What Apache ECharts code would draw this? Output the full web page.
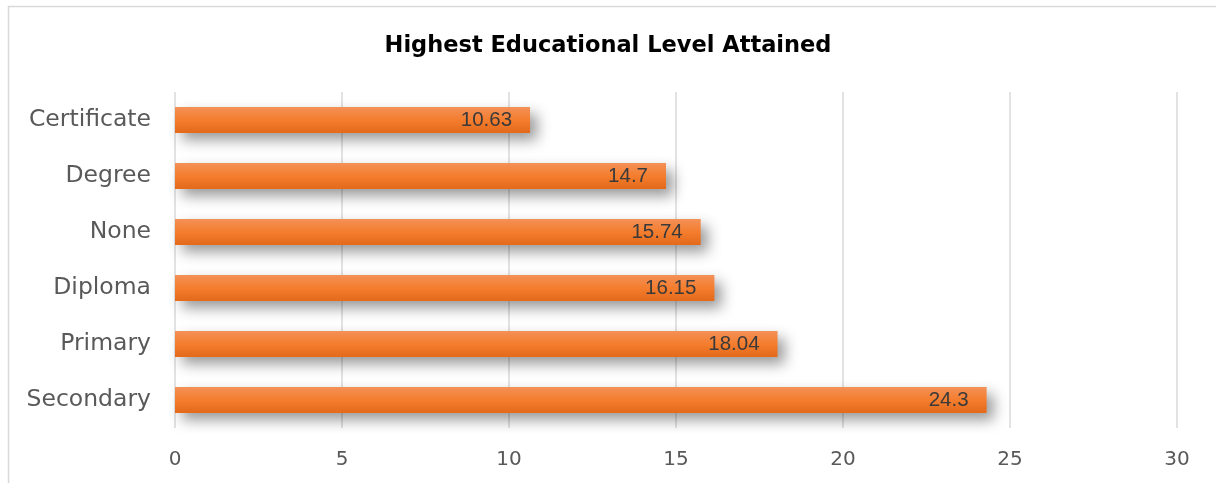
<!DOCTYPE html>
<html>
<head>
<meta charset="utf-8">
<script src="https://cdn.jsdelivr.net/npm/echarts@6/dist/echarts.min.js"></script>
<style>
html,body{margin:0;padding:0;background:#fff;}
#chart{width:1216px;height:483px;}
</style>
</head>
<body>
<div id="chart"></div>
<script>
const categories = ["Secondary", "Primary", "Diploma", "None", "Degree", "Certificate"];
const values = [24.3, 18.04, 16.15, 15.74, 14.7, 10.63];
const xTicks = { min: 0, max: 30, interval: 5 };
const titleText = "Highest Educational Level Attained";

const chart = echarts.init(document.getElementById('chart'), null, { renderer: 'canvas' });
chart.setOption({
  backgroundColor: '#ffffff',
  animation: false,
  title: {
    text: titleText,
    left: 'center',
    top: 30,
    textStyle: { fontFamily: 'DejaVu Sans', fontWeight: 'bold', fontSize: 22.5, color: '#000000' }
  },
  graphic: [{
    type: 'rect',
    shape: { x: 8.5, y: 6.5, width: 1230, height: 500 },
    style: { fill: 'none', stroke: '#d9d9d9', lineWidth: 1.5 },
    silent: true
  }],
  grid: { left: 175, right: 39, top: 92, bottom: 55 },
  xAxis: {
    type: 'value',
    min: xTicks.min, max: xTicks.max, interval: xTicks.interval,
    axisLine: { show: false },
    axisTick: { show: false },
    splitLine: { show: true, lineStyle: { color: '#d9d9d9', width: 1.5 } },
    axisLabel: { fontFamily: 'DejaVu Sans', fontSize: 20, color: '#595959', margin: 22 }
  },
  yAxis: {
    type: 'category',
    data: categories,
    axisLine: { show: false },
    axisTick: { show: false },
    axisLabel: { fontFamily: 'DejaVu Sans', fontSize: 23.5, color: '#595959', margin: 24 }
  },
  series: [{
    type: 'bar',
    data: values,
    barWidth: 26,
    itemStyle: {
      color: new echarts.graphic.LinearGradient(0, 0, 0, 1, [
        { offset: 0, color: '#F39158' },
        { offset: 0.5, color: '#F47D2E' },
        { offset: 1, color: '#E4691A' }
      ]),
      shadowColor: 'rgba(0,0,0,0.4)',
      shadowBlur: 14,
      shadowOffsetX: 7,
      shadowOffsetY: 7
    },
    label: {
      show: true,
      position: 'insideRight',
      distance: 18,
      fontFamily: 'Liberation Sans',
      fontSize: 20.5,
      color: '#3a3a3a'
    }
  }]
});
</script>
</body>
</html>
